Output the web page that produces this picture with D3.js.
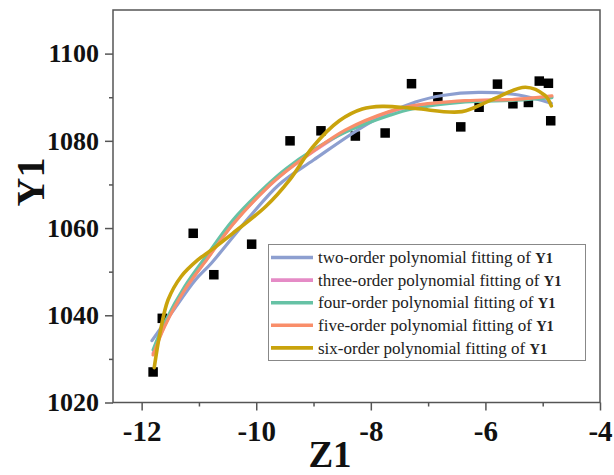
<!DOCTYPE html>
<html>
<head>
<meta charset="utf-8">
<script src="https://cdn.jsdelivr.net/npm/d3@7"></script>
<style>
  body { margin: 0; background: #fff; }
  svg { display: block; font-family: "Times New Roman", "Liberation Serif", serif; }
</style>
</head>
<body>
<div id="chart"></div>
<script>
// measured points (Z1, Y1)
const zData = [-11.80, -11.64, -11.10, -10.74, -10.08, -9.41, -8.87, -8.27, -7.75, -7.29,
               -6.83, -6.43, -6.11, -5.79, -5.52, -5.25, -5.06, -4.90, -4.86];
const y1Data = [1027.0, 1039.3, 1058.8, 1049.3, 1056.3, 1080.0, 1082.3, 1081.1, 1081.8, 1093.1,
                1090.1, 1083.2, 1087.7, 1093.0, 1088.5, 1088.8, 1093.7, 1093.2, 1084.6];

// fitted curves as [Z1, Y1]
const fit2 = [[-11.82, 1034.2], [-11.48, 1040.5], [-11.07, 1048.0], [-10.78, 1052.0], [-10.12, 1062.5],
              [-9.60, 1070.0], [-9.0, 1075.6], [-8.0, 1084.3], [-7.22, 1088.9], [-6.75, 1090.4],
              [-6.12, 1091.1], [-5.42, 1090.5], [-4.85, 1088.6]];
const fit3 = [[-11.80, 1031.3], [-11.60, 1037.6], [-11.25, 1045.9], [-10.85, 1053.1], [-10.41, 1060.9],
              [-9.83, 1069.0], [-9.48, 1073.0], [-9.02, 1077.4], [-8.44, 1082.2], [-7.68, 1086.6],
              [-7.28, 1087.9], [-6.35, 1089.1], [-5.48, 1089.5], [-4.84, 1090.1]];
const fit4 = [[-11.80, 1032.1], [-11.60, 1038.3], [-11.25, 1046.6], [-10.85, 1054.0], [-10.41, 1061.8],
              [-9.83, 1069.6], [-9.48, 1073.6], [-9.02, 1077.8], [-8.44, 1082.0], [-7.68, 1085.8],
              [-7.28, 1087.3], [-6.35, 1088.9], [-5.48, 1089.3], [-4.84, 1089.9]];
const fit5 = [[-11.80, 1030.9], [-11.60, 1037.4], [-11.25, 1045.8], [-10.85, 1053.0], [-10.41, 1060.8],
              [-9.83, 1069.0], [-9.48, 1073.0], [-9.02, 1077.5], [-8.44, 1082.5], [-7.68, 1086.7],
              [-7.28, 1088.0], [-6.35, 1089.2], [-5.48, 1089.5], [-4.84, 1090.3]];
const fit6 = [[-11.78, 1028.0], [-11.68, 1035.9], [-11.54, 1043.5], [-11.31, 1048.9], [-11.02, 1052.7],
              [-10.78, 1055.0], [-10.41, 1058.8], [-9.83, 1065.0], [-9.42, 1071.0], [-9.02, 1078.5],
              [-8.55, 1084.6], [-8.15, 1087.3], [-7.80, 1087.9], [-7.22, 1087.4], [-6.41, 1086.7],
              [-5.89, 1089.4], [-5.30, 1092.3], [-4.96, 1090.4], [-4.85, 1088.0]];

const fits = [fit2, fit3, fit4, fit5, fit6];
const fitNames = ['two-order', 'three-order', 'four-order', 'five-order', 'six-order'];
const fitColors = ['#8d9fd0', '#e58bc6', '#66c2a5', '#f98e6a', '#c9a30c'];

const xTicks = [-12, -10, -8, -6, -4];
const xMinor = [-11, -9, -7, -5];
const yTicks = [1020, 1040, 1060, 1080, 1100];
const yMinor = [1030, 1050, 1070, 1090];

const width = 614, height = 475;
const plotLeft = 113, plotRight = 600, plotTop = 10, plotBottom = 402.5;

const svg = d3.select('#chart').append('svg')
    .attr('width', width)
    .attr('height', height);

const x = d3.scaleLinear().domain([-12.5, -4]).range([plotLeft, plotRight]);
const y = d3.scaleLinear().domain([1020, 1110]).range([plotBottom, plotTop]);

const axisColor = '#555';
const serif = '"Times New Roman", "Liberation Serif", serif';

// frame
svg.append('rect')
    .attr('x', plotLeft).attr('y', plotTop)
    .attr('width', plotRight - plotLeft).attr('height', plotBottom - plotTop)
    .attr('fill', 'none')
    .attr('stroke', axisColor)
    .attr('stroke-width', 1.5);

function styleAxis(g) {
    g.select('.domain').remove();
    g.selectAll('line').attr('stroke', axisColor).attr('stroke-width', 1.5);
}

// x axis, major + minor (plain hyphen for the minus sign, like the original)
svg.append('g')
    .attr('transform', `translate(0,${plotBottom})`)
    .call(d3.axisBottom(x).tickValues(xTicks).tickSize(8).tickPadding(10).tickFormat(d => String(d)))
    .call(styleAxis)
    .call(g => g.selectAll('text')
        .attr('fill', '#111')
        .style('font-size', '29px')
        .style('font-weight', 'bold')
        .style('font-family', serif));
svg.append('g')
    .attr('transform', `translate(0,${plotBottom})`)
    .call(d3.axisBottom(x).tickValues(xMinor).tickSize(4).tickFormat(''))
    .call(styleAxis);

// y axis, major + minor
svg.append('g')
    .attr('transform', `translate(${plotLeft},0)`)
    .call(d3.axisLeft(y).tickValues(yTicks).tickSize(8).tickPadding(6).tickFormat(d => String(d)))
    .call(styleAxis)
    .call(g => g.selectAll('text')
        .attr('fill', '#111')
        .style('font-size', '26px')
        .style('font-weight', 'bold')
        .style('font-family', serif));
svg.append('g')
    .attr('transform', `translate(${plotLeft},0)`)
    .call(d3.axisLeft(y).tickValues(yMinor).tickSize(4).tickFormat(''))
    .call(styleAxis);

// axis titles
svg.append('text')
    .attr('x', 330).attr('y', 467)
    .attr('text-anchor', 'middle')
    .style('font-size', '37px')
    .style('font-weight', 'bold')
    .attr('fill', '#111')
    .text('Z1');

svg.append('text')
    .attr('transform', 'translate(44,182) rotate(-90)')
    .attr('text-anchor', 'middle')
    .style('font-size', '40px')
    .style('font-weight', 'bold')
    .attr('fill', '#111')
    .text('Y1');

// scatter squares
const sq = 9.5;
svg.append('g')
    .selectAll('rect')
    .data(zData.map((z, i) => [z, y1Data[i]]))
    .join('rect')
    .attr('x', d => x(d[0]) - sq / 2)
    .attr('y', d => y(d[1]) - sq / 2)
    .attr('width', sq)
    .attr('height', sq)
    .attr('fill', '#000');

// fit curves
const line = d3.line()
    .x(d => x(d[0]))
    .y(d => y(d[1]))
    .curve(d3.curveCatmullRom.alpha(0.5));

svg.append('g')
    .selectAll('path')
    .data(fits)
    .join('path')
    .attr('d', line)
    .attr('fill', 'none')
    .attr('stroke', (d, i) => fitColors[i])
    .attr('stroke-width', (d, i) => i === 4 ? 3.6 : 3.2)
    .attr('stroke-linecap', 'round');

// legend
const lg = svg.append('g');
lg.append('rect')
    .attr('x', 268.5).attr('y', 244.5)
    .attr('width', 317).attr('height', 116)
    .attr('fill', '#fff')
    .attr('stroke', '#888')
    .attr('stroke-width', 1);

const rows = lg.selectAll('g.row')
    .data(fitNames)
    .join('g')
    .attr('class', 'row')
    .attr('transform', (d, i) => `translate(0,${257.5 + i * 22.6})`);

rows.append('line')
    .attr('x1', 271).attr('x2', 313)
    .attr('stroke', (d, i) => fitColors[i])
    .attr('stroke-width', 3.6);

const txt = rows.append('text')
    .attr('x', 318)
    .attr('dy', '0.33em')
    .style('font-size', '17px')
    .attr('fill', '#222');
txt.append('tspan').text(d => `${d} polynomial fitting of `);
txt.append('tspan').style('font-weight', 'bold').style('font-size', '14.5px').text('Y1');
</script>
</body>
</html>
